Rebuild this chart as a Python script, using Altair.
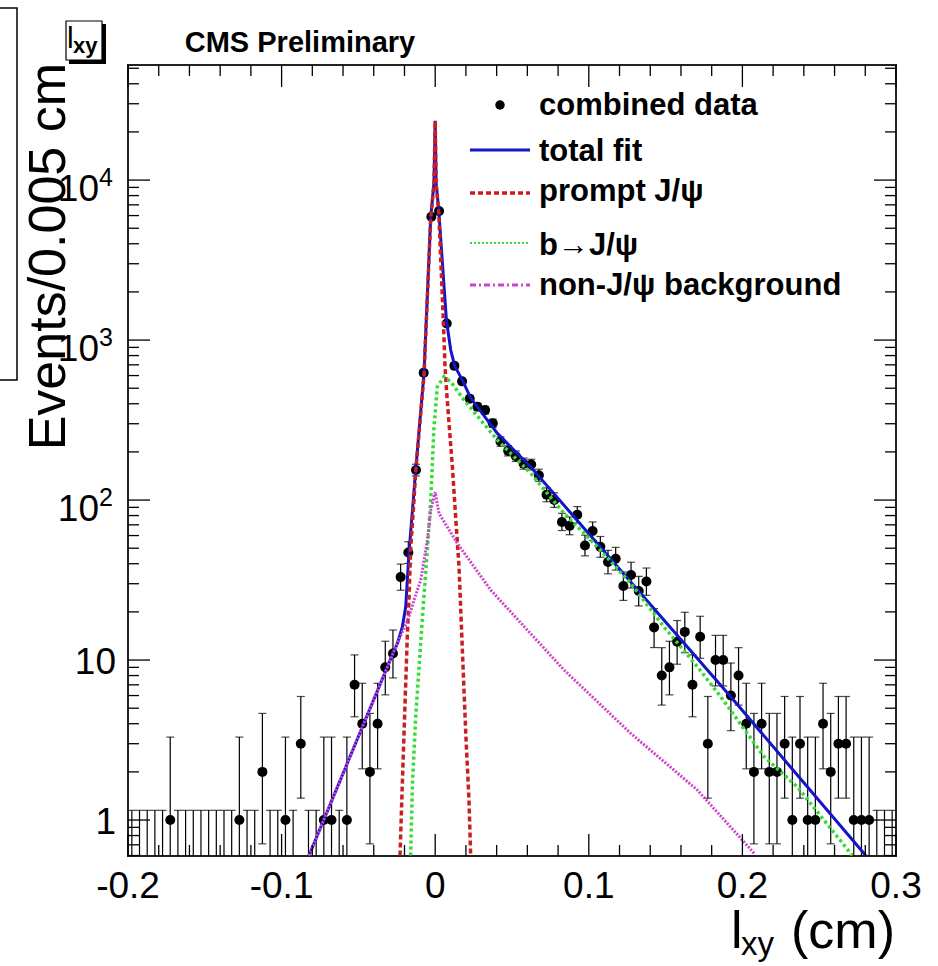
import altair as alt
import pandas as pd

# ---------------- data ----------------
bin_low = -0.2
bin_width = 0.005
counts = [0, 0, 0, 0, 0, 1, 0, 0, 0, 0,
          0, 0, 0, 0, 1, 0, 0, 2, 0, 0,
          1, 0, 3, 0, 0, 1, 1, 0, 1, 7,
          4, 2, 4, 9, 11, 33, 47, 154, 625, 5900,
          6400, 1270, 690, 552, 430, 383, 365, 302, 232, 203,
          188, 169, 167, 143, 108, 100, 73, 69, 81, 52,
          64, 51, 41, 43, 29, 34, 27, 31, 16, 8,
          9, 13, 15, 7, 14, 3, 10, 10, 6, 8,
          4, 2, 4, 2, 2, 3, 1, 3, 1, 1,
          4, 2, 3, 3, 1, 1, 1, 0, 0, 0]

# error-bar ends (low, high) as drawn for each count
err_band = {
    0: (0.3, 1.15), 1: (0.17, 3.30), 2: (0.71, 4.64), 3: (1.37, 5.92), 4: (2.09, 7.16),
    6: (3.62, 9.58), 7: (4.42, 10.77), 8: (5.23, 11.95), 9: (6.06, 13.11),
    10: (6.89, 14.27), 11: (7.73, 15.41), 13: (9.42, 17.66), 14: (10.26, 18.78),
    15: (11.11, 19.89), 16: (11.97, 20.99), 27: (21.8, 33.3), 29: (23.6, 35.5),
    31: (25.4, 37.6), 33: (27.3, 39.8), 34: (28.2, 40.9), 41: (34.6, 48.5),
    43: (36.5, 50.6), 47: (40.2, 54.9), 51: (43.9, 59.2), 52: (44.8, 60.3),
    64: (56.0, 73.0), 69: (60.7, 78.4), 73: (64.5, 82.6), 81: (72.0, 91.0),
    100: (90.0, 111.0), 108: (97.6, 119.4), 143: (131.0, 156.0), 154: (141.6, 167.5),
    167: (154.1, 180.0), 169: (156.0, 183.0), 188: (174.3, 202.7), 203: (188.8, 218.3),
    232: (216.8, 248.2), 302: (284.6, 320.4), 365: (345.9, 385.1), 383: (363.4, 403.6),
    430: (409.0, 452.0), 552: (528.5, 576.5), 625: (600.0, 651.0), 690: (664.0, 717.0),
    1270: (1234.0, 1307.0), 5900: (5823.0, 5978.0), 6400: (6320.0, 6481.0),
}

total_x = [-0.0822, -0.0275, -0.0246, -0.0214, -0.0192, -0.0171, -0.0127, -0.0073,
           -0.0029, -0.0008, 0.0, 0.0006, 0.0023, 0.0073, 0.0101, 0.0127, 0.0177,
           0.0231, 0.0405, 0.0622, 0.1262, 0.1924, 0.2803]
total_y = [0.6, 11.0, 12.7, 16.1, 21.5, 46.4, 154, 619,
           5900, 9600, 23500, 9600, 6500, 1334, 866, 690, 562,
           434, 261, 161, 31.6, 5.9, 0.6]

prompt_x = [-0.0229, -0.0214, -0.0203, -0.0192, -0.0181, -0.0171, -0.016, -0.0138,
            -0.0127, -0.0073, -0.0029, -0.0008, 0.0, 0.0006, 0.0023, 0.0053, 0.0064,
            0.0075, 0.0112, 0.0133, 0.0155, 0.0177, 0.0199, 0.022, 0.0231]
prompt_y = [0.6, 1.69, 3.48, 7.15, 14.7, 23.7, 48.7, 100,
            150, 600, 5800, 9500, 23400, 9500, 6300, 1334, 681,
            466, 161, 78.7, 38.3, 11.5, 3.48, 1.33, 0.6]

bjpsi_x = [-0.016, -0.0148, -0.0127, -0.0105, -0.0083, -0.0051, -0.0029, -0.0008,
           0.0014, 0.0057, 0.0101, 0.0188, 0.0405, 0.0622, 0.0839, 0.1056, 0.1273,
           0.149, 0.1707, 0.1859, 0.2141, 0.2358, 0.2716]
bjpsi_y = [0.6, 1.69, 4.42, 9.08, 18.6, 48.7, 100, 286,
           511, 590, 549, 422, 237, 147, 82.5, 51, 30.1,
           16.1, 9.08, 5.9, 2.49, 1.61, 0.6]

bkg_x = [-0.0822, -0.0275, -0.0171, -0.0138, -0.0094, -0.0051, -0.0029, 0.0,
         0.0025, 0.0145, 0.0361, 0.0839, 0.1273, 0.1707, 0.2076]
bkg_y = [0.6, 11.0, 18.6, 23.7, 31.6, 56, 86.6, 112,
         82.5, 53.5, 27.4, 8.66, 3.48, 1.54, 0.62]

x_major = [-0.2, -0.1, 0.0, 0.1, 0.2, 0.3]
x_minor = [-0.18, -0.16, -0.14, -0.12, -0.08, -0.06, -0.04, -0.02,
           0.02, 0.04, 0.06, 0.08, 0.12, 0.14, 0.16, 0.18,
           0.22, 0.24, 0.26, 0.28]
x_labels = ["-0.2", "-0.1", "0", "0.1", "0.2", "0.3"]
y_major = [1, 10, 100, 1000, 10000]
y_minor = [0.6, 0.7, 0.8, 0.9, 2, 3, 4, 5, 6, 7, 8, 9,
           20, 30, 40, 50, 60, 70, 80, 90, 200, 300, 400, 500, 600, 700, 800, 900,
           2000, 3000, 4000, 5000, 6000, 7000, 8000, 9000, 20000, 30000, 40000, 50000]

legend_labels = ["combined data", "total fit", "prompt J/\u03c8", "b\u2192J/\u03c8",
                 "non-J/\u03c8 background"]

# ---------------- styling ----------------
W, H = 768, 791
FONT = "Liberation Sans"
BLUE = "#1414c8"
RED = "#c82020"
GREEN = "#30dd30"
MAGENTA = "#cc44cc"

xs = alt.Scale(domain=[-0.2, 0.3], nice=False, zero=False)
ys = alt.Scale(type="log", domain=[0.596, 52400], nice=False)


def X(f):
    return alt.X(f, type="quantitative", scale=xs, axis=None)


def Y(f):
    return alt.Y(f, type="quantitative", scale=ys, axis=None)


# histogram table
rows = []
for i, n in enumerate(counts):
    lo, hi = err_band[n]
    rows.append({"x": bin_low + (i + 0.5) * bin_width, "n": n, "lo": lo, "hi": hi})
hist = pd.DataFrame(rows)
filled = hist[hist.n > 0]

layers = []

# error bars
layers.append(alt.Chart(hist).mark_rule(color="black", strokeWidth=1.2, clip=True)
              .encode(x=X("x"), y=Y("lo"), y2="hi"))
layers.append(alt.Chart(hist).mark_tick(color="black", orient="horizontal", size=8,
                                        thickness=1.2, clip=True)
              .encode(x=X("x"), y=Y("hi")))
layers.append(alt.Chart(filled).mark_tick(color="black", orient="horizontal", size=8,
                                          thickness=1.2, clip=True)
              .encode(x=X("x"), y=Y("lo")))
layers.append(alt.Chart(filled).mark_circle(color="black", size=100, opacity=1, clip=True)
              .encode(x=X("x"), y=Y("n")))


# fitted curves
def curve(xv, yv, color, width, dash=None):
    df = pd.DataFrame({"x": xv, "y": yv})
    kw = dict(color=color, strokeWidth=width, clip=True)
    if dash:
        kw["strokeDash"] = dash
    return alt.Chart(df).mark_line(**kw).encode(x=X("x"), y=Y("y"), order="x:Q")


layers.append(curve(total_x, total_y, BLUE, 3))
layers.append(curve(prompt_x, prompt_y, RED, 3.5, [5, 3]))
layers.append(curve(bjpsi_x, bjpsi_y, GREEN, 3.5, [3, 3]))
layers.append(curve(bkg_x, bkg_y, MAGENTA, 3, [2, 1.5]))


# inward ticks
def xticks(vals, length):
    df = pd.DataFrame({"v": vals})
    b = alt.Chart(df).mark_rule(color="black", strokeWidth=1.3).encode(
        x=X("v"), y=alt.value(H), y2=alt.value(H - length))
    t = alt.Chart(df).mark_rule(color="black", strokeWidth=1.3).encode(
        x=X("v"), y=alt.value(0), y2=alt.value(length))
    return [b, t]


def yticks(vals, length):
    df = pd.DataFrame({"v": vals})
    l = alt.Chart(df).mark_rule(color="black", strokeWidth=1.3).encode(
        y=Y("v"), x=alt.value(0), x2=alt.value(length))
    r = alt.Chart(df).mark_rule(color="black", strokeWidth=1.3).encode(
        y=Y("v"), x=alt.value(W), x2=alt.value(W - length))
    return [l, r]


layers += xticks(x_major, 22) + xticks(x_minor, 11)
layers += yticks(y_major, 22) + yticks(y_minor, 11)

# axis labels
xl = pd.DataFrame({"v": x_major, "t": x_labels})
layers.append(alt.Chart(xl).mark_text(font=FONT, fontSize=37, align="center",
                                      baseline="alphabetic", color="black")
              .encode(x=X("v"), y=alt.value(833), text="t:N"))

yl_plain = pd.DataFrame({"v": y_major[:2], "t": ["1", "10"]})
layers.append(alt.Chart(yl_plain).mark_text(font=FONT, fontSize=37, align="right",
                                            baseline="middle", dy=3, color="black")
              .encode(y=Y("v"), x=alt.value(-12), text="t:N"))
yl_pow = pd.DataFrame({"v": y_major[2:], "t": ["10", "10", "10"], "e": ["2", "3", "4"]})
layers.append(alt.Chart(yl_pow).mark_text(font=FONT, fontSize=37, align="right",
                                          baseline="middle", dy=10, color="black")
              .encode(y=Y("v"), x=alt.value(-29), text="t:N"))
layers.append(alt.Chart(yl_pow).mark_text(font=FONT, fontSize=25, align="left",
                                          baseline="middle", dy=-2, color="black")
              .encode(y=Y("v"), x=alt.value(-29), text="e:N"))


def label(text, x, y, size, weight="normal", align="left", angle=0, color="black"):
    kw = dict(font=FONT, fontSize=size, fontWeight=weight, align=align,
              baseline="alphabetic", color=color)
    if angle:
        kw["angle"] = angle
    return alt.Chart(pd.DataFrame({"t": [text]})).mark_text(**kw).encode(
        x=alt.value(x), y=alt.value(y), text="t:N")


# titles
layers.append(label("CMS Preliminary", 172, -13, 29, "bold", "center"))
layers.append(label("Events/0.005 cm", -63, -2, 52, "normal", "right", angle=270))
layers.append(label("l", 603, 883, 52))
layers.append(label("xy", 613, 890, 33))
layers.append(label("(cm)", 767, 883, 52, align="right"))

# small "l_xy" box top-left
box = pd.DataFrame({"a": [0]})
layers.append(alt.Chart(box).mark_rect(color="black").encode(
    x=alt.value(-59), x2=alt.value(-22), y=alt.value(-41), y2=alt.value(-1)))
layers.append(alt.Chart(box).mark_rect(fill="white", stroke="black", strokeWidth=1.2).encode(
    x=alt.value(-62), x2=alt.value(-26), y=alt.value(-44), y2=alt.value(-5)))
layers.append(label("l", -61, -17, 30))
layers.append(label("xy", -55, -12, 22, "bold"))

# neighbouring-panel frame fragment at the far left
layers.append(alt.Chart(box).mark_rect(fill="white", fillOpacity=0, stroke="black",
                                       strokeWidth=1.5).encode(
    x=alt.value(-135), x2=alt.value(-111), y=alt.value(-57), y2=alt.value(315)))

# legend
layers.append(alt.Chart(box).mark_circle(color="black", size=90, opacity=1).encode(
    x=alt.value(372), y=alt.value(40)))
leg_y = [85, 128, 178, 220]
leg_style = [(BLUE, 3, None), (RED, 3.5, [5, 3]), (GREEN, 2, [2, 2]), (MAGENTA, 3, [6, 3, 2, 3])]
for yy, (c, w, d) in zip(leg_y, leg_style):
    kw = dict(color=c, strokeWidth=w)
    if d:
        kw["strokeDash"] = d
    layers.append(alt.Chart(box).mark_rule(**kw).encode(
        x=alt.value(342), x2=alt.value(402), y=alt.value(yy)))
for t, yy in zip(legend_labels, [50, 96, 136, 190, 230]):
    layers.append(label(t, 411, yy, 31, "bold"))

chart = alt.layer(*layers).properties(
    width=W, height=H,
    autosize=alt.AutoSizeParams(type="none"),
    padding={"left": 128, "top": 65, "right": 42, "bottom": 110},
    background="white",
).configure_view(stroke="#222222", strokeWidth=2)

chart.save("out.html", embed_options={"renderer": "svg", "actions": False})
